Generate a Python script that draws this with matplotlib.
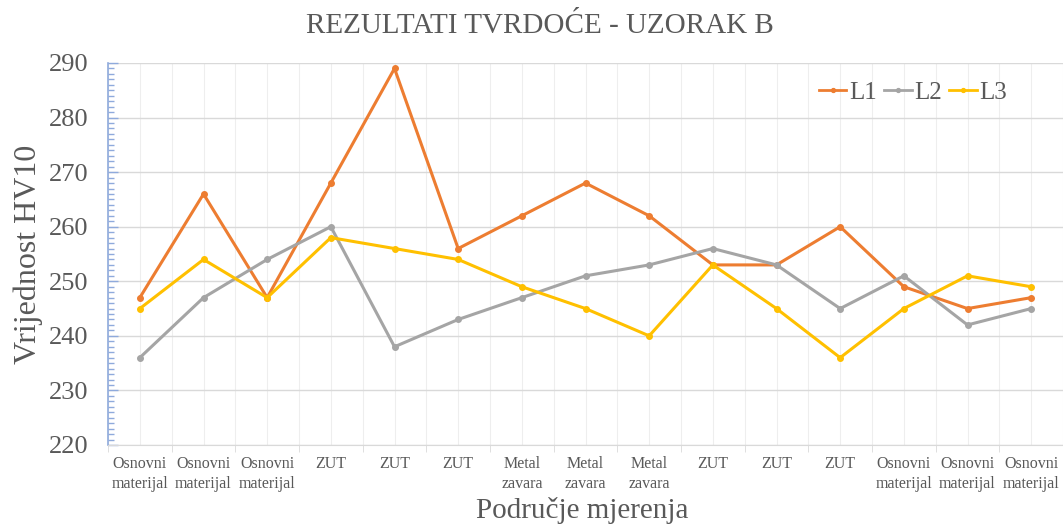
import numpy as np
import matplotlib
matplotlib.use('Agg')
import matplotlib.pyplot as plt
from matplotlib.ticker import MultipleLocator

plt.rcParams['font.family'] = ['Liberation Serif', 'DejaVu Serif']

categories = ['Osnovni\nmaterijal', 'Osnovni\nmaterijal', 'Osnovni\nmaterijal',
              'ZUT', 'ZUT', 'ZUT',
              'Metal\nzavara', 'Metal\nzavara', 'Metal\nzavara',
              'ZUT', 'ZUT', 'ZUT',
              'Osnovni\nmaterijal', 'Osnovni\nmaterijal', 'Osnovni\nmaterijal']

l1 = [247, 266, 247, 268, 289, 256, 262, 268, 262, 253, 253, 260, 249, 245, 247]
l2 = [236, 247, 254, 260, 238, 243, 247, 251, 253, 256, 253, 245, 251, 242, 245]
l3 = [245, 254, 247, 258, 256, 254, 249, 245, 240, 253, 245, 236, 245, 251, 249]

series = [('L1', l1, '#ED7D31'), ('L2', l2, '#A5A5A5'), ('L3', l3, '#FFC000')]
txt = '#595959'

fig = plt.figure(figsize=(10.63, 5.26), dpi=100)
ax = fig.add_axes([108 / 1063, 1 - 445 / 526, 1 - 108 / 1063, (445 - 63) / 526])

x = np.arange(len(categories))
for name, vals, col in series:
    ax.plot(x, vals, color=col, lw=2.2, marker='o', ms=4, label=name, zorder=3)

ax.set_xlim(-0.5, len(categories) - 0.5)
ax.set_ylim(220, 290)
ax.yaxis.set_major_locator(MultipleLocator(10))
ax.yaxis.set_minor_locator(MultipleLocator(1))
ax.set_xticks(x)
ax.set_xticklabels(categories, fontsize=11.5, color=txt, linespacing=1.35)
ax.set_xticks(np.arange(-0.5, len(categories), 1), minor=True)

# grid: horizontal at majors, vertical at both centres and boundaries
ax.grid(axis='y', which='major', color='#D9D9D9', lw=1.0, zorder=0)
for xv in np.arange(-0.5, len(categories), 0.5):
    ax.axvline(xv, color='#EEEEEE', lw=0.8, zorder=0)

ax.tick_params(axis='x', which='major', length=0, pad=8)
ax.tick_params(axis='x', which='minor', length=5, color='#D9D9D9', direction='out')
ax.tick_params(axis='y', which='major', length=7, width=1, color='#8FAADC',
               direction='in', labelsize=19, labelcolor=txt, pad=14)
ax.tick_params(axis='y', which='minor', length=4, width=1, color='#8FAADC',
               direction='in')

for s in ['top', 'right']:
    ax.spines[s].set_visible(False)
ax.spines['left'].set_color('#8FAADC')
ax.spines['left'].set_linewidth(1.2)
ax.spines['bottom'].set_color('#D9D9D9')

ax.set_ylabel('Vrijednost HV10', fontsize=23, color=txt, labelpad=4)
fig.text(0.548, 0.004, 'Područje mjerenja', fontsize=21, color=txt,
         ha='center', va='bottom')
fig.suptitle('REZULTATI TVRDOĆE - UZORAK B', fontsize=21, color=txt,
             x=0.508, y=0.975)

leg = ax.legend(loc='upper right', bbox_to_anchor=(0.965, 1.01), ncol=3,
                frameon=False, fontsize=18, handlelength=1.1, handletextpad=0.1,
                columnspacing=0.3, markerscale=0.7, labelcolor=txt)
for h in leg.legend_handles:
    h.set_linewidth(2)

fig.savefig('out.png', dpi=100)
